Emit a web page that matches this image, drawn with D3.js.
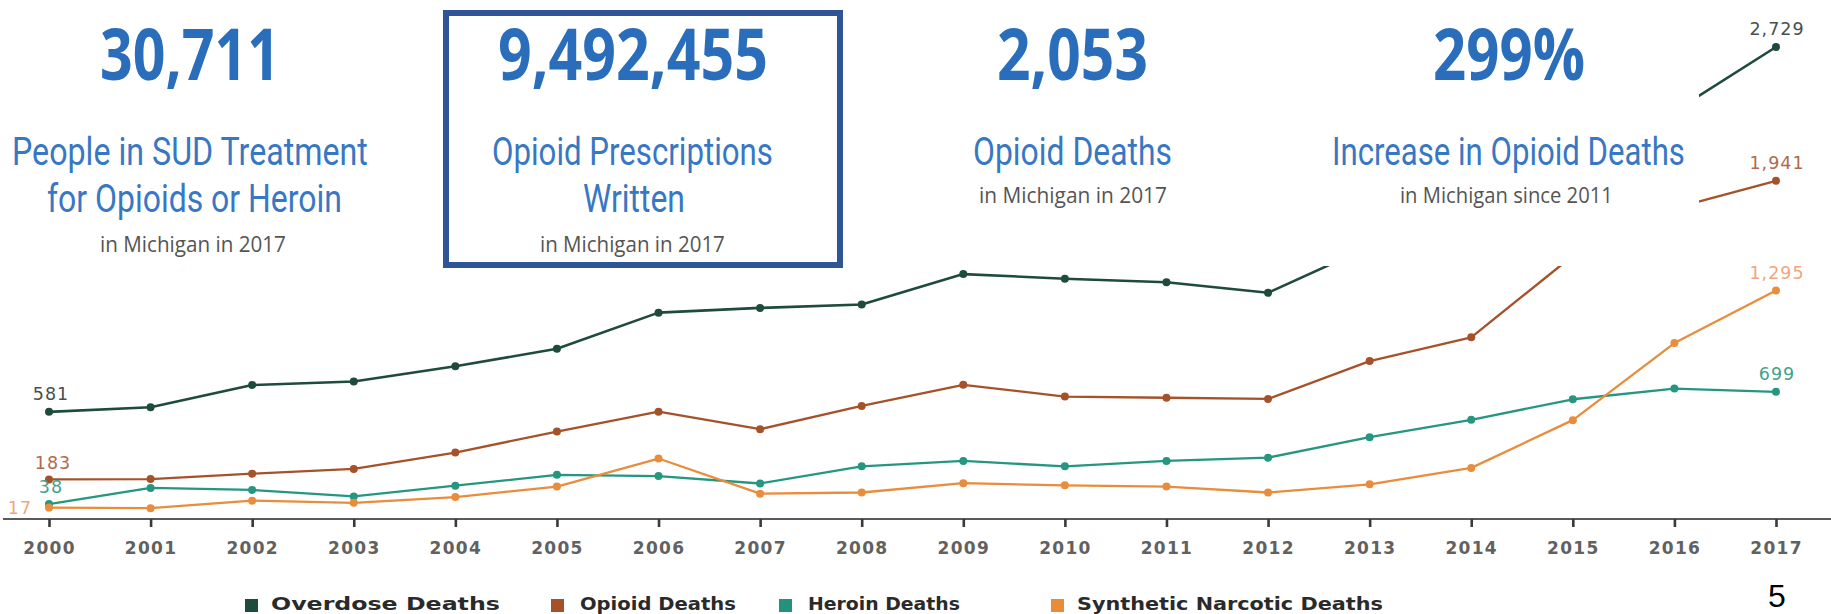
<!DOCTYPE html>
<html>
<head>
<meta charset="utf-8">
<script src="https://cdn.jsdelivr.net/npm/d3@7"></script>
<style>
  html, body { margin: 0; padding: 0; background: #ffffff; }
  svg { display: block; }
</style>
</head>
<body>
<svg id="chart" width="1831" height="614"></svg>
<script>
// ---------------- data ----------------
const years = [2000, 2001, 2002, 2003, 2004, 2005, 2006, 2007, 2008, 2009, 2010, 2011, 2012, 2013, 2014, 2015, 2016, 2017];
const overdoseDeaths  = [581, 608, 739, 760, 849, 952, 1165, 1193, 1213, 1392, 1365, 1344, 1282, 1554, 1760, 1985, 2350, 2729];
const opioidDeaths    = [183, 185, 217, 245, 341, 465, 582, 479, 616, 740, 671, 664, 657, 880, 1020, 1500, 1780, 1941];
const heroinDeaths    = [38, 133, 121, 83, 146, 210, 203, 159, 260, 292, 260, 292, 311, 432, 534, 655, 718, 699];
const syntheticDeaths = [17, 14, 58, 45, 79, 141, 306, 99, 106, 161, 148, 141, 106, 154, 251, 532, 986, 1295];

const seriesNames = ["Overdose Deaths", "Opioid Deaths", "Heroin Deaths", "Synthetic Narcotic Deaths"];

const statValues    = ["30,711", "9,492,455", "2,053", "299%"];
const statTitles    = [["People in SUD Treatment", "for Opioids or Heroin"], ["Opioid Prescriptions", "Written"], ["Opioid Deaths"], ["Increase in Opioid Deaths"]];
const statSubtitles = ["in Michigan in 2017", "in Michigan in 2017", "in Michigan in 2017", "in Michigan since 2011"];

const pageNumber = "5";

// ---------------- styles ----------------
const lineColors   = ["#1f4a3e", "#a5522b", "#25967f", "#e98c3b"];
const labelColors  = ["#46504c", "#b06a4a", "#45a08d", "#f2a67c"];
const legendColors = ["#1d4c3f", "#a5522b", "#23917b", "#ea8b35"];

const svg = d3.select("#chart");

// fit a text horizontally into [x, x + width] with a real transform
function fitText(sel, x0, baseline, width) {
  sel.attr("x", 0).attr("y", 0);
  const len = sel.node().getComputedTextLength();
  const sx = width / len;
  sel.attr("transform", `translate(${x0},${baseline}) scale(${sx},1)`);
  return sel;
}

// ---------------- scales ----------------
const x = d3.scaleLinear().domain([2000, 2017]).range([49, 1776]);
const y = d3.scaleLinear().domain([-50, 3000]).range([519, 1]);

const allSeries = [overdoseDeaths, opioidDeaths, heroinDeaths, syntheticDeaths];

// ---------------- axis ----------------
const axisG = svg.append("g").attr("transform", `translate(0,${y(-50)})`);
axisG.append("line")
  .attr("x1", 3).attr("x2", 1831).attr("y1", 0).attr("y2", 0)
  .attr("stroke", "#5a5a5a").attr("stroke-width", 2.2);
const xAxis = d3.axisBottom(x)
  .tickValues(years)
  .tickFormat(d3.format("d"))
  .tickSize(8)
  .tickPadding(15);
axisG.call(xAxis);
axisG.select(".domain").remove();
axisG.selectAll(".tick line").attr("stroke", "#3a3a3a").attr("stroke-width", 2.6);
axisG.selectAll(".tick text")
  .attr("fill", "#616161")
  .style("font-family", "'DejaVu Sans', Verdana, sans-serif")
  .style("font-size", "17px")
  .style("font-weight", "bold")
  .style("letter-spacing", "1.3px");

// ---------------- lines ----------------
const line = d3.line()
  .x((d, i) => x(years[i]))
  .y(d => y(d))
  .curve(d3.curveLinear);

const linesG = svg.append("g");
allSeries.forEach((s, k) => {
  linesG.append("path")
    .datum(s)
    .attr("d", line)
    .attr("fill", "none")
    .attr("stroke", lineColors[k])
    .attr("stroke-width", k === 0 ? 2.6 : 2.3)
    .attr("stroke-linejoin", "round");
  linesG.selectAll(null)
    .data(s)
    .enter().append("circle")
    .attr("cx", (d, i) => x(years[i]))
    .attr("cy", d => y(d))
    .attr("r", 4)
    .attr("fill", lineColors[k]);
});

// ---------------- end labels ----------------
const fmt = d3.format(",");
const labelFont = "'DejaVu Sans', Verdana, sans-serif";
const firstOffsets = [[2, -18], [4, -17], [2, -17], [-29, 0]];
const lastOffsets  = [[1, -18], [1, -18], [1, -18], [1, -18]];
allSeries.forEach((s, k) => {
  const first = s[0], last = s[s.length - 1];
  svg.append("text")
    .attr("x", x(years[0]) + firstOffsets[k][0])
    .attr("y", y(first) + firstOffsets[k][1])
    .attr("dy", "0.36em")
    .attr("text-anchor", "middle")
    .attr("fill", labelColors[k])
    .style("font-family", labelFont)
    .style("font-size", "17.5px")
    .style("letter-spacing", "1px")
    .text(fmt(first));
  svg.append("text")
    .attr("x", x(years[years.length - 1]) + lastOffsets[k][0])
    .attr("y", y(last) + lastOffsets[k][1])
    .attr("dy", "0.36em")
    .attr("text-anchor", "middle")
    .attr("fill", labelColors[k])
    .style("font-family", labelFont)
    .style("font-size", "17.5px")
    .style("letter-spacing", "1px")
    .text(fmt(last));
});

// ---------------- white info band over the chart ----------------
svg.append("rect")
  .attr("x", 0).attr("y", 0).attr("width", 1699).attr("height", 266)
  .attr("fill", "#ffffff");

// highlighted box
svg.append("rect")
  .attr("x", 446).attr("y", 13).attr("width", 394).attr("height", 252)
  .attr("fill", "none")
  .attr("stroke", "#2f5597")
  .attr("stroke-width", 6);

// ---------------- stat panels ----------------
const panelFont = "'Open Sans', 'Noto Sans', sans-serif";
const titleFont = "Roboto, 'Open Sans', sans-serif";
const valueBoxes = [[100, 180], [498, 270], [997, 151], [1433, 152]];
const titleBoxes = [[[12, 356], [47, 295]], [[492, 281], [583, 102]], [[973, 199]], [[1332, 353]]];
const subBoxes   = [[100, 186, 252], [540, 185, 252], [979, 188, 203], [1400, 213, 203]];
const titleBaselines = [165, 211.5];

const panels = svg.append("g");
statValues.forEach((v, i) => {
  const tv = panels.append("text")
    .attr("fill", "#2a6ebb")
    .style("font-family", panelFont)
    .style("font-size", "72px")
    .style("font-weight", "bold")
    .text(v);
  fitText(tv, valueBoxes[i][0], 80, valueBoxes[i][1]);
  statTitles[i].forEach((t, j) => {
    const tt = panels.append("text")
      .attr("fill", "#3877c3")
      .style("font-family", titleFont)
      .style("font-size", "39px")
      .text(t);
    fitText(tt, titleBoxes[i][j][0], titleBaselines[j], titleBoxes[i][j][1]);
  });
  const ts = panels.append("text")
    .attr("fill", "#555555")
    .style("font-family", panelFont)
    .style("font-size", "22px")
    .text(statSubtitles[i]);
  fitText(ts, subBoxes[i][0], subBoxes[i][2], subBoxes[i][1]);
});

// ---------------- legend ----------------
const legendSquares = [245, 551, 779, 1051];
const legendTexts   = [[271, 229], [580, 156], [808, 152], [1077, 306]];
const legend = svg.append("g");
seriesNames.forEach((n, k) => {
  legend.append("rect")
    .attr("x", legendSquares[k]).attr("y", 599)
    .attr("width", 13).attr("height", 13)
    .attr("fill", legendColors[k]);
  const lt = legend.append("text")
    .attr("fill", "#2a2a2a")
    .style("font-family", labelFont)
    .style("font-size", "17px")
    .style("font-weight", "bold")
    .text(n);
  fitText(lt, legendTexts[k][0], 610, legendTexts[k][1]);
});

// page number
svg.append("text")
  .attr("x", 1777).attr("y", 607)
  .attr("text-anchor", "middle")
  .attr("fill", "#000")
  .style("font-family", "'Liberation Sans', Arial, sans-serif")
  .style("font-size", "32px")
  .text(pageNumber);
</script>
</body>
</html>
